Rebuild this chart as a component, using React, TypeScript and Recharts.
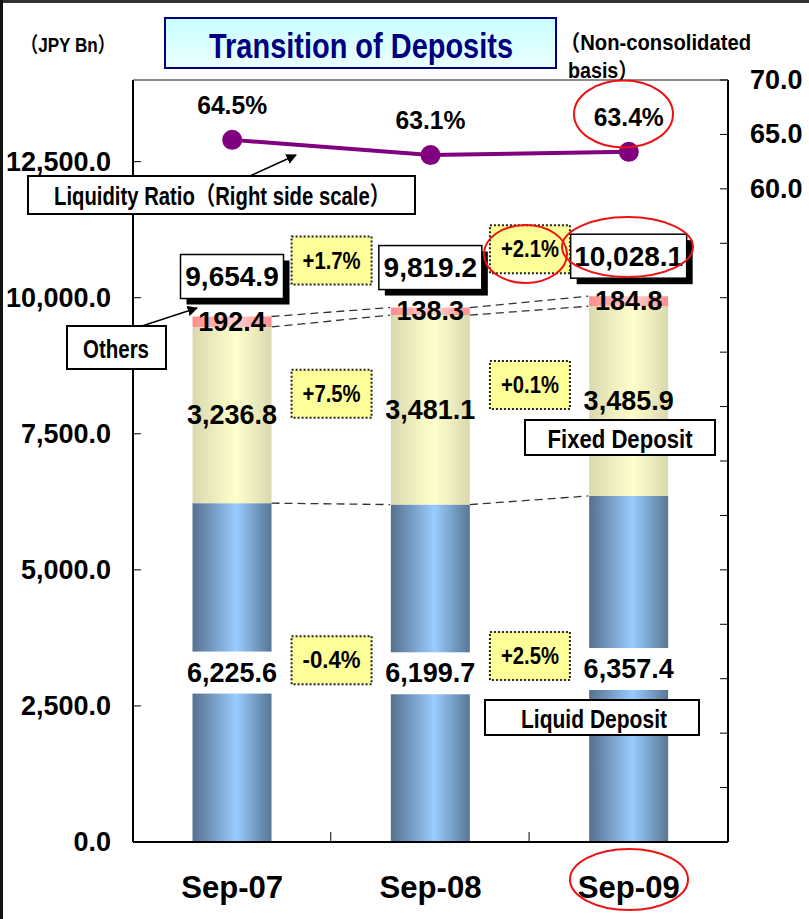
import React from "react";
import { ComposedChart, Bar, Line, XAxis, YAxis, LabelList, ReferenceLine } from "recharts";

const categories = ["Sep-07", "Sep-08", "Sep-09"];
const liquidDeposit = [6225.6, 6199.7, 6357.4];
const fixedDeposit = [3236.8, 3481.1, 3485.9];
const otherDeposit = [192.4, 138.3, 184.8];
const totalDeposit = [9654.9, 9819.2, 10028.1];
const liquidityRatio = [64.5, 63.1, 63.4];

// year-on-year change, shown between the bars
const totalChange = ["", "+1.7%", "+2.1%"];
const fixedChange = ["", "+7.5%", "+0.1%"];
const liquidChange = ["", "-0.4%", "+2.5%"];

const leftTicks = [0, 2500, 5000, 7500, 10000, 12500];
const rightTicks = [0, 5, 10, 15, 20, 25, 30, 35, 40, 45, 50, 55, 60, 65, 70];
const rightTickLabels = [60, 65, 70];

const LEFT_MAX = 14000;
const RIGHT_MAX = 70;

const data = categories.map((name, i) => ({
  name,
  liquid: liquidDeposit[i],
  fixed: fixedDeposit[i],
  others: otherDeposit[i],
  ratio: liquidityRatio[i],
}));

const FONT = "'Liberation Sans', Arial, 'Noto Sans CJK JP', sans-serif";
const WEIGHT = 600;
const CATEGORY_GAP = 0.3;
const TICK_GAP = 22;
const TICK_LEN = 8;

const fmt = (v: number) =>
  v.toLocaleString("en-US", { minimumFractionDigits: 1, maximumFractionDigits: 1 });

const boxOf = (p: any) => {
  const vb = p.viewBox && p.viewBox.width !== undefined ? p.viewBox : p;
  return { x: Number(vb.x), y: Number(vb.y), width: Number(vb.width), height: Number(vb.height) };
};

// centre of the gap to the left of a bar
const gapCentre = (x: number, width: number) => {
  const band = width / (1 - 2 * CATEGORY_GAP);
  return x - (band - width) / 2;
};

function ChangeBox({ cx, cy, text }: { cx: number; cy: number; text: string }) {
  const w = 80;
  const h = 48;
  return (
    <g>
      <rect x={cx - w / 2} y={cy - h / 2} width={w} height={h} fill="#ffff99" stroke="#222" strokeWidth={2} strokeDasharray="2 2" />
      <text x={cx} y={cy} textAnchor="middle" dominantBaseline="central" fontSize={23} fontWeight={WEIGHT}
        textLength={58} lengthAdjust="spacingAndGlyphs" fontFamily={FONT} fill="#000">
        {text}
      </text>
    </g>
  );
}

// liquid bar also draws the dashed links to the next bar and the category divider tick
function LiquidShape(props: any) {
  const { x, y, width, height, index } = props;
  const base = y + height;
  const perUnit = height / liquidDeposit[index];
  const band = width / (1 - 2 * CATEGORY_GAP);
  const extras: React.ReactNode[] = [];
  if (index < categories.length - 1) {
    const n = index + 1;
    const levels = [
      [liquidDeposit[index], liquidDeposit[n]],
      [liquidDeposit[index] + fixedDeposit[index], liquidDeposit[n] + fixedDeposit[n]],
      [
        liquidDeposit[index] + fixedDeposit[index] + otherDeposit[index],
        liquidDeposit[n] + fixedDeposit[n] + otherDeposit[n],
      ],
    ];
    levels.forEach(([a, b], k) => {
      extras.push(
        <line key={k} x1={x + width} y1={base - a * perUnit} x2={x + band} y2={base - b * perUnit}
          stroke="#333" strokeWidth={1.3} strokeDasharray="8 5" />
      );
    });
    const divider = x + width / 2 + band / 2;
    extras.push(<line key="tick" x1={divider} x2={divider} y1={base} y2={base - 10} stroke="#000" strokeWidth={1} />);
  }
  return (
    <g>
      <rect x={x} y={y} width={width} height={height} fill="url(#gLiquid)" />
      {extras}
    </g>
  );
}

function LiquidLabel(props: any) {
  const { x, y, width, height } = boxOf(props);
  const i = props.index ?? 0;
  const cx = x + width / 2;
  const cy = y + height / 2;
  return (
    <g>
      <rect x={x - 1} y={cy - 21} width={width + 2} height={42} fill="#fff" />
      <text x={cx} y={cy} textAnchor="middle" dominantBaseline="central" fontSize={27} fontWeight={WEIGHT} fontFamily={FONT} fill="#000">
        {fmt(liquidDeposit[i])}
      </text>
      {liquidChange[i] && <ChangeBox cx={gapCentre(x, width)} cy={cy - 13} text={liquidChange[i]} />}
    </g>
  );
}

function FixedLabel(props: any) {
  const { x, y, width, height } = boxOf(props);
  const i = props.index ?? 0;
  const cx = x + width / 2;
  const cy = y + height / 2;
  return (
    <g>
      <text x={cx} y={cy} textAnchor="middle" dominantBaseline="central" fontSize={27} fontWeight={WEIGHT} fontFamily={FONT} fill="#000">
        {fmt(fixedDeposit[i])}
      </text>
      {fixedChange[i] && <ChangeBox cx={gapCentre(x, width)} cy={cy - 16} text={fixedChange[i]} />}
    </g>
  );
}

function OthersLabel(props: any) {
  const { x, y, width, height } = boxOf(props);
  const i = props.index ?? 0;
  const cx = x + width / 2;
  const text = fmt(totalDeposit[i]);
  const w = text.length * 13 + 12;
  const h = 44;
  const bottom = y - 18;
  return (
    <g>
      <text x={cx} y={y + height / 2} textAnchor="middle" dominantBaseline="central" fontSize={27} fontWeight={WEIGHT} fontFamily={FONT} fill="#000">
        {fmt(otherDeposit[i])}
      </text>
      <rect x={cx - w / 2 + 6} y={bottom - h + 6} width={w} height={h} fill="#000" />
      <rect x={cx - w / 2} y={bottom - h} width={w} height={h} fill="#fff" stroke="#000" strokeWidth={1.5} />
      <text x={cx} y={bottom - h / 2} textAnchor="middle" dominantBaseline="central" fontSize={28} fontWeight={WEIGHT} fontFamily={FONT} fill="#000">
        {text}
      </text>
      {totalChange[i] && <ChangeBox cx={gapCentre(x, width)} cy={bottom - h / 2 - 7} text={totalChange[i]} />}
    </g>
  );
}

function RatioLabel(props: any) {
  const x = Number(props.x ?? props.viewBox?.x);
  const y = Number(props.y ?? props.viewBox?.y);
  const i = props.index ?? 0;
  return (
    <text x={x} y={y - 26} textAnchor="middle" fontSize={26} fontWeight={WEIGHT} textLength={70} lengthAdjust="spacingAndGlyphs"
      fontFamily={FONT} fill="#000">
      {`${liquidityRatio[i].toFixed(1)}%`}
    </text>
  );
}

function LeftTick(props: any) {
  const { x, y, payload } = props;
  return (
    <g>
      <text x={x} y={y} textAnchor="end" dominantBaseline="central" fontSize={27} fontWeight={WEIGHT} fontFamily={FONT} fill="#000">
        {fmt(payload.value)}
      </text>
      <line x1={x + TICK_GAP} x2={x + TICK_GAP + TICK_LEN} y1={y} y2={y} stroke="#000" strokeWidth={1} />
    </g>
  );
}

function RightTick(props: any) {
  const { x, y, payload } = props;
  return (
    <g>
      {rightTickLabels.includes(payload.value) && (
        <text x={x} y={y} textAnchor="start" dominantBaseline="central" fontSize={27} fontWeight={WEIGHT} fontFamily={FONT} fill="#000">
          {Number(payload.value).toFixed(1)}
        </text>
      )}
      <line x1={x - TICK_GAP - TICK_LEN} x2={x - TICK_GAP} y1={y} y2={y} stroke="#000" strokeWidth={1} />
    </g>
  );
}

function CategoryTick(props: any) {
  const { x, y, payload } = props;
  return (
    <text x={x} y={y + 56} textAnchor="middle" fontSize={32} fontWeight="bold" textLength={102} lengthAdjust="spacingAndGlyphs"
      fontFamily={FONT} fill="#000">
      {payload.value}
    </text>
  );
}

function Overlay() {
  const txt = { fontFamily: FONT, fill: "#000", fontWeight: WEIGHT } as const;
  return (
    <svg width={809} height={919} style={{ position: "absolute", left: 0, top: 0, pointerEvents: "none" }}>
      <defs>
        <linearGradient id="gTitle" x1="0" y1="0" x2="0" y2="1">
          <stop offset="0%" stopColor="#c8ffff" />
          <stop offset="100%" stopColor="#ecffff" />
        </linearGradient>
        <marker id="arrow" viewBox="0 0 10 10" refX="9" refY="5" markerWidth="7" markerHeight="7" orient="auto">
          <path d="M0,0 L10,5 L0,10 z" fill="#000" />
        </marker>
      </defs>

      {/* slide frame */}
      <rect x={0} y={0} width={809} height={3} fill="#333" />
      <rect x={0} y={0} width={3} height={919} fill="#111" />

      <text x={21} y={52} fontSize={21} textLength={94} lengthAdjust="spacingAndGlyphs" {...txt}>（JPY Bn）</text>

      <rect x={165} y={18} width={391} height={50} fill="url(#gTitle)" stroke="#000080" strokeWidth={2} />
      <text x={361} y={58} textAnchor="middle" fontSize={35} fontWeight="bold" textLength={304} lengthAdjust="spacingAndGlyphs"
        fontFamily={FONT} fill="#000080">
        Transition of Deposits
      </text>

      <text x={560} y={50} fontSize={22} textLength={191} lengthAdjust="spacingAndGlyphs" {...txt}>（Non-consolidated</text>
      <text x={568} y={78} fontSize={22} textLength={70} lengthAdjust="spacingAndGlyphs" {...txt}>basis）</text>

      <line x1={250} y1={176} x2={296} y2={155} stroke="#000" strokeWidth={1.5} markerEnd="url(#arrow)" />
      <rect x={28} y={176} width={387} height={38} fill="#fff" stroke="#000" strokeWidth={2} />
      <text x={222} y={205} textAnchor="middle" fontSize={25} textLength={336} lengthAdjust="spacingAndGlyphs" {...txt}>
        Liquidity Ratio（Right side scale）
      </text>

      <line x1={142} y1={326} x2={197} y2={308} stroke="#000" strokeWidth={1.5} markerEnd="url(#arrow)" />
      <rect x={67} y={326} width={99} height={43} fill="#fff" stroke="#000" strokeWidth={2} />
      <text x={116} y={358} textAnchor="middle" fontSize={25} textLength={66} lengthAdjust="spacingAndGlyphs" {...txt}>Others</text>

      <rect x={525} y={420} width={190} height={35} fill="#fff" stroke="#000" strokeWidth={2} />
      <text x={620} y={448} textAnchor="middle" fontSize={25} textLength={145} lengthAdjust="spacingAndGlyphs" {...txt}>Fixed Deposit</text>

      <rect x={485} y={700} width={214} height={35} fill="#fff" stroke="#000" strokeWidth={2} />
      <text x={594} y={728} textAnchor="middle" fontSize={25} textLength={146} lengthAdjust="spacingAndGlyphs" {...txt}>Liquid Deposit</text>

      {/* highlight rings */}
      <ellipse cx={623.5} cy={114} rx={49.5} ry={33.5} fill="none" stroke="#ee1111" strokeWidth={2} />
      <ellipse cx={525.5} cy={254} rx={41.5} ry={29} fill="none" stroke="#ee1111" strokeWidth={2} />
      <ellipse cx={627.5} cy={247} rx={65.5} ry={30} fill="none" stroke="#ee1111" strokeWidth={2} />
      <ellipse cx={629} cy={879.5} rx={59} ry={30.5} fill="none" stroke="#ee1111" strokeWidth={2} />
    </svg>
  );
}

export default function App() {
  return (
    <div style={{ position: "absolute", left: 0, top: 0, width: 809, height: 919, background: "#fff" }}>
      <ComposedChart
        width={809}
        height={919}
        data={data}
        margin={{ top: 80, right: 0, bottom: 0, left: 0 }}
        barCategoryGap={`${CATEGORY_GAP * 100}%`}
        style={{ fontFamily: FONT }}
      >
        <defs>
          <linearGradient id="gLiquid" x1="0" y1="0" x2="1" y2="0">
            <stop offset="0%" stopColor="#55708e" />
            <stop offset="55%" stopColor="#99ccff" />
            <stop offset="100%" stopColor="#587694" />
          </linearGradient>
          <linearGradient id="gFixed" x1="0" y1="0" x2="1" y2="0">
            <stop offset="0%" stopColor="#d9d9af" />
            <stop offset="55%" stopColor="#ffffcc" />
            <stop offset="100%" stopColor="#d9d9af" />
          </linearGradient>
          <linearGradient id="gOthers" x1="0" y1="0" x2="1" y2="0">
            <stop offset="0%" stopColor="#ff8c8c" />
            <stop offset="55%" stopColor="#ffd0d0" />
            <stop offset="100%" stopColor="#ff8c8c" />
          </linearGradient>
        </defs>
        <XAxis
          dataKey="name"
          height={77}
          tickSize={0}
          tickMargin={0}
          tick={<CategoryTick />}
          axisLine={{ stroke: "#000", strokeWidth: 2 }}
          tickLine={false}
          interval={0}
        />
        <YAxis
          yAxisId="left"
          orientation="left"
          width={133}
          domain={[0, LEFT_MAX]}
          ticks={leftTicks}
          interval={0}
          tickSize={0}
          tickMargin={TICK_GAP}
          tick={<LeftTick />}
          tickLine={false}
          axisLine={{ stroke: "#000", strokeWidth: 2 }}
        />
        <YAxis
          yAxisId="right"
          orientation="right"
          width={81}
          domain={[0, RIGHT_MAX]}
          ticks={rightTicks}
          interval={0}
          tickSize={0}
          tickMargin={TICK_GAP}
          tick={<RightTick />}
          tickLine={false}
          axisLine={{ stroke: "#000", strokeWidth: 2 }}
        />
        <ReferenceLine yAxisId="left" y={LEFT_MAX} stroke="#8c8c8c" strokeWidth={2} />
        <Bar yAxisId="left" dataKey="liquid" stackId="d" shape={<LiquidShape />} isAnimationActive={false}>
          <LabelList dataKey="liquid" content={<LiquidLabel />} />
        </Bar>
        <Bar yAxisId="left" dataKey="fixed" stackId="d" fill="url(#gFixed)" isAnimationActive={false}>
          <LabelList dataKey="fixed" content={<FixedLabel />} />
        </Bar>
        <Bar yAxisId="left" dataKey="others" stackId="d" fill="url(#gOthers)" isAnimationActive={false}>
          <LabelList dataKey="others" content={<OthersLabel />} />
        </Bar>
        <Line
          yAxisId="right"
          dataKey="ratio"
          stroke="#800080"
          strokeWidth={4}
          dot={{ r: 8, fill: "#800080", stroke: "#800080" }}
          isAnimationActive={false}
        >
          <LabelList dataKey="ratio" content={<RatioLabel />} />
        </Line>
      </ComposedChart>
      <Overlay />
    </div>
  );
}
